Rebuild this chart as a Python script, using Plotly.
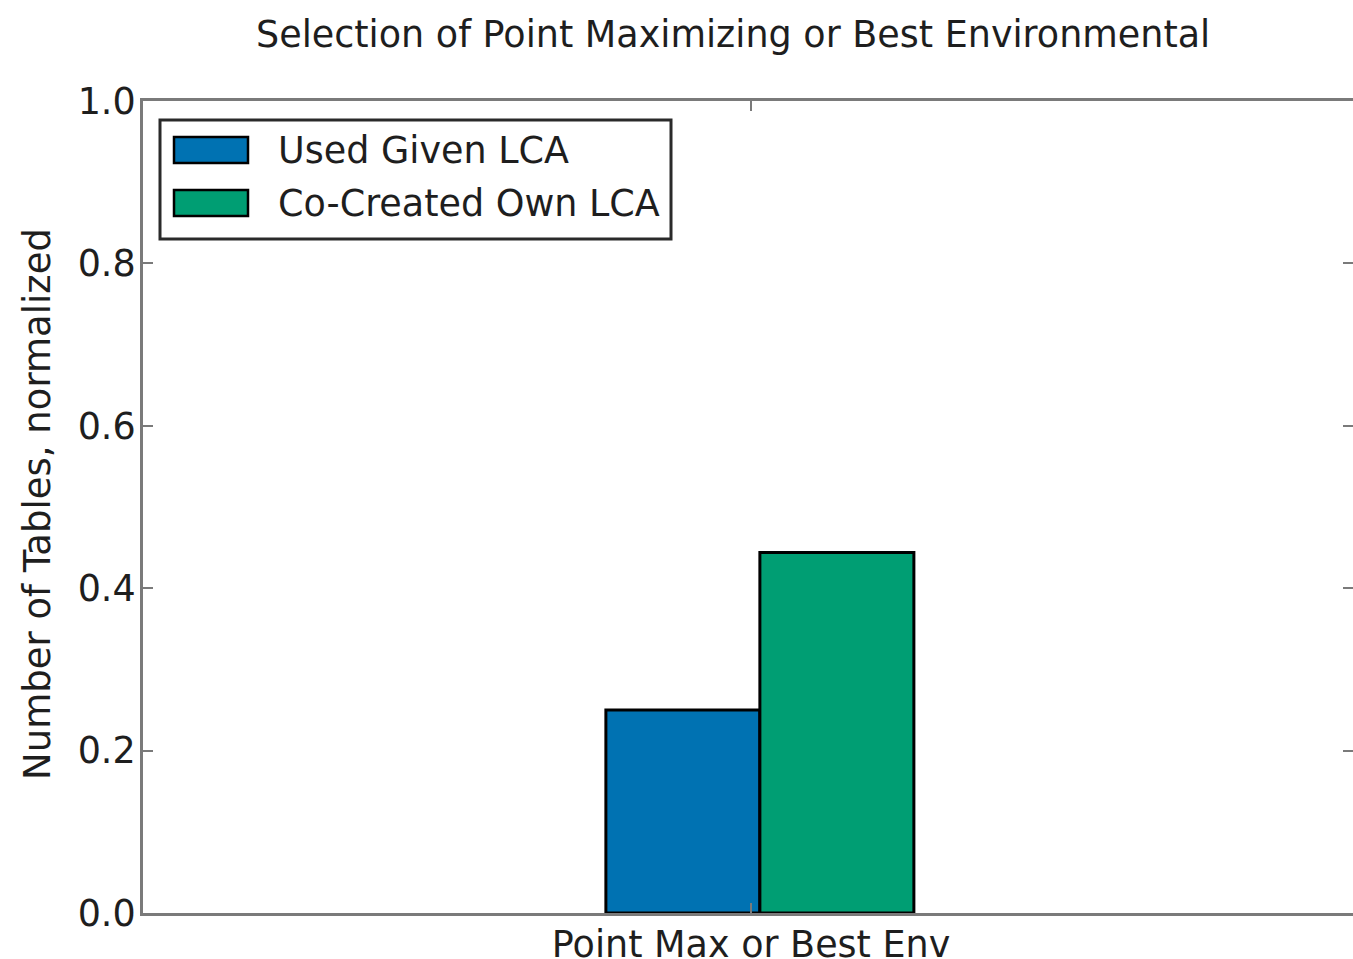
import plotly.graph_objects as go

# Data
categories = ["Point Max or Best Env"]
series_names = ["Used Given LCA", "Co-Created Own LCA"]
used_given = [0.25]
co_created = [0.444]
y_ticks = [0.0, 0.2, 0.4, 0.6, 0.8, 1.0]
series_values = [used_given, co_created]

# Styling
colors = ["#0072B2", "#009E73"]
axis_gray = "#7a7a7a"
text_color = "#1e1e1e"
font_family = "DejaVu Sans"
fsize = 36.5

W, H = 1353, 959
L, R, T, B = 143, 0, 101, 46
plot_w = W - L - R
plot_h = H - T - B


def px_x(px):
    return (px - L) / plot_w


def px_y(py):
    return (H - B - py) / plot_h


bar_w = 0.35
offsets = [-0.33, 0.02]
x_range = [-1.382, 1.368]

fig = go.Figure()
for name, vals, col, off in zip(series_names, series_values, colors, offsets):
    fig.add_trace(go.Bar(
        x=list(range(len(categories))), y=vals, name=name,
        width=bar_w, offset=off,
        marker=dict(color=col, line=dict(color="black", width=3)),
        showlegend=False,
    ))

# empty trace so the right-hand tick axis is rendered
fig.add_trace(go.Scatter(x=[], y=[], yaxis="y2", showlegend=False))

axis_common = dict(
    showgrid=False, zeroline=False, ticks="inside", ticklen=10,
    tickwidth=2, tickcolor=axis_gray, automargin=False,
    tickfont=dict(family=font_family, size=fsize, color=text_color),
)

fig.update_layout(
    width=W, height=H,
    margin=dict(l=L, r=R, t=T, b=B, pad=0, autoexpand=False),
    paper_bgcolor="white", plot_bgcolor="white",
    barmode="overlay",
    showlegend=False,
    font=dict(family=font_family, size=fsize, color=text_color),
    xaxis=dict(
        range=x_range, tickvals=list(range(len(categories))), ticktext=categories,
        showline=True, linecolor=axis_gray, linewidth=3, mirror="ticks",
        ticklabelstandoff=-3,
        **axis_common,
    ),
    yaxis=dict(
        range=[0, 1], tickvals=y_ticks, ticktext=[f"{v:.1f}" for v in y_ticks],
        showline=True, linecolor=axis_gray, linewidth=3, mirror=False,
        ticklabelstandoff=-3,
        **axis_common,
    ),
    yaxis2=dict(
        range=[0, 1], tickvals=y_ticks, overlaying="y", side="right",
        showline=False, showticklabels=False,
        **axis_common,
    ),
)

# Legend drawn as a framed box with colour patches
shapes = [
    dict(type="rect", xref="paper", yref="paper",
         x0=px_x(160), x1=px_x(671), y0=px_y(239), y1=px_y(120),
         line=dict(color="#2a2a2a", width=3), fillcolor="white", layer="above"),
]
rows = [(137, 163, 150.5), (190, 216, 203.5)]
for (top, bot, mid), col, name in zip(rows, colors, series_names):
    shapes.append(dict(type="rect", xref="paper", yref="paper",
                       x0=px_x(174), x1=px_x(248), y0=px_y(bot), y1=px_y(top),
                       line=dict(color="black", width=2.5), fillcolor=col, layer="above"))
    fig.add_annotation(x=px_x(276), y=px_y(mid), xref="paper", yref="paper",
                       text=name, showarrow=False, xanchor="left", yanchor="middle",
                       font=dict(family=font_family, size=fsize, color=text_color))
fig.update_layout(shapes=shapes)

# Title and y-axis label
fig.add_annotation(x=px_x(733), y=px_y(34), xref="paper", yref="paper",
                   text="Selection of Point Maximizing or Best Environmental",
                   showarrow=False, xanchor="center", yanchor="middle",
                   font=dict(family=font_family, size=fsize, color=text_color))
fig.add_annotation(x=px_x(37), y=px_y(504), xref="paper", yref="paper",
                   text="Number of Tables, normalized", textangle=-90,
                   showarrow=False, xanchor="center", yanchor="middle",
                   font=dict(family=font_family, size=37, color=text_color))

fig.write_html("out.html")
